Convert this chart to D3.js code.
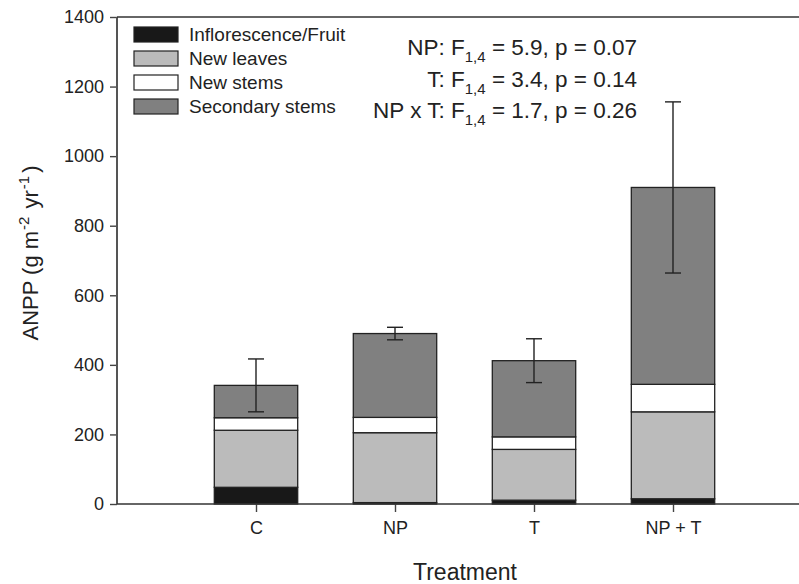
<!DOCTYPE html>
<html>
<head>
<meta charset="utf-8">
<script src="https://cdn.jsdelivr.net/npm/d3@7"></script>
<style>
  html, body { margin: 0; padding: 0; background: #fff; }
  svg { display: block; font-family: "Liberation Sans", Arial, sans-serif; }
</style>
</head>
<body>
<svg id="chart" width="799" height="584"></svg>
<script>
// Treatments and ANPP components (g m-2 yr-1), stacked bottom to top
const treatments = ["C", "NP", "T", "NP + T"];
const fruit      = [48, 4, 11, 15];
const newLeaves  = [164, 201, 146, 250];
const newStems   = [36, 44, 36, 79];
const secStems   = [93, 241, 219, 566];
const stdErr     = [76, 18, 63, 246];

const seriesNames  = ["Inflorescence/Fruit", "New leaves", "New stems", "Secondary stems"];
const seriesColors = ["#181818", "#bbbbbb", "#ffffff", "#808080"];
const yTicks = [0, 200, 400, 600, 800, 1000, 1200, 1400];
const statLines = [
  { pre: "NP: F", post: " = 5.9, p = 0.07" },
  { pre: "T: F",  post: " = 3.4, p = 0.14" },
  { pre: "NP x T: F", post: " = 1.7, p = 0.26" }
];

const rows = treatments.map((t, i) => ({
  treatment: t, pos: i + 1,
  "Inflorescence/Fruit": fruit[i],
  "New leaves": newLeaves[i],
  "New stems": newStems[i],
  "Secondary stems": secStems[i],
  se: stdErr[i]
}));

const svg = d3.select("#chart");
const plotLeft = 117, plotTop = 17, plotBottom = 504;

const x = d3.scaleLinear().domain([0, 5]).range([plotLeft, plotLeft + 5 * 139]);
const y = d3.scaleLinear().domain([0, 1400]).range([plotBottom, plotTop]);
const barW = 0.6 * (x(1) - x(0));

const stack = d3.stack().keys(seriesNames)(rows);
const color = d3.scaleOrdinal().domain(seriesNames).range(seriesColors);

// stacked bars
svg.append("g").selectAll("g").data(stack).join("g")
  .attr("fill", d => color(d.key))
  .selectAll("rect").data(d => d).join("rect")
  .attr("x", d => x(d.data.pos) - barW / 2)
  .attr("width", barW)
  .attr("y", d => y(d[1]))
  .attr("height", d => y(d[0]) - y(d[1]))
  .attr("stroke", "#222")
  .attr("stroke-width", 1.3);

// error bars on total
const totals = rows.map(r => ({ pos: r.pos, total: d3.sum(seriesNames, k => r[k]), se: r.se }));
const eb = svg.append("g").attr("stroke", "#222").attr("stroke-width", 1.4);
totals.forEach(d => {
  const cx = x(d.pos);
  eb.append("line").attr("x1", cx).attr("x2", cx).attr("y1", y(d.total - d.se)).attr("y2", y(d.total + d.se));
  [d.total - d.se, d.total + d.se].forEach(v => {
    eb.append("line").attr("x1", cx - 8).attr("x2", cx + 8).attr("y1", y(v)).attr("y2", y(v));
  });
});

// axes
const yAxis = svg.append("g").attr("transform", `translate(${plotLeft},0)`)
  .call(d3.axisLeft(y).tickValues(yTicks).tickSize(7).tickPadding(6).tickFormat(d3.format("d")));
yAxis.select(".domain").remove();
yAxis.selectAll("line").attr("stroke", "#444").attr("stroke-width", 1.4);
yAxis.selectAll("text").attr("font-size", 18).attr("fill", "#222").style("font-family", "Liberation Sans, Arial, sans-serif");

const xAxis = svg.append("g").attr("transform", `translate(0,${plotBottom})`)
  .call(d3.axisBottom(x).tickValues(rows.map(r => r.pos)).tickSize(8).tickPadding(9)
    .tickFormat((d, i) => treatments[i]));
xAxis.select(".domain").remove();
xAxis.selectAll("line").attr("stroke", "#444").attr("stroke-width", 1.4);
xAxis.selectAll("text").attr("font-size", 18).attr("fill", "#222").style("font-family", "Liberation Sans, Arial, sans-serif");

// frame lines: left, bottom, top
svg.append("line").attr("x1", plotLeft).attr("x2", plotLeft).attr("y1", plotTop).attr("y2", plotBottom)
  .attr("stroke", "#555").attr("stroke-width", 2);
svg.append("line").attr("x1", plotLeft).attr("x2", 799).attr("y1", plotBottom).attr("y2", plotBottom)
  .attr("stroke", "#333").attr("stroke-width", 1.5);
svg.append("line").attr("x1", plotLeft).attr("x2", 799).attr("y1", plotTop).attr("y2", plotTop)
  .attr("stroke", "#333").attr("stroke-width", 1.5);

// axis titles
svg.append("text").attr("x", 465).attr("y", 580).attr("text-anchor", "middle")
  .attr("font-size", 23).attr("fill", "#222").text("Treatment");

const yt = svg.append("text").attr("transform", `translate(38,253) rotate(-90)`)
  .attr("text-anchor", "middle").attr("font-size", 22).attr("fill", "#222");
yt.append("tspan").text("ANPP (g m");
yt.append("tspan").attr("font-size", 15).attr("dy", -9).attr("dx", 1).text("-2");
yt.append("tspan").attr("dy", 9).attr("dx", 2).text(" yr");
yt.append("tspan").attr("font-size", 15).attr("dy", -9).attr("dx", 1).text("-1");
yt.append("tspan").attr("dy", 9).attr("dx", 3).text(")");

// legend
const lg = svg.append("g");
seriesNames.forEach((name, i) => {
  const yy = 27 + i * 24;
  lg.append("rect").attr("x", 134).attr("y", yy).attr("width", 44).attr("height", 15)
    .attr("fill", seriesColors[i]).attr("stroke", "#222").attr("stroke-width", 1.2);
  lg.append("text").attr("x", 189).attr("y", yy + 14).attr("font-size", 19)
    .attr("fill", "#222").text(name);
});

// statistics annotation
statLines.forEach((s, i) => {
  const t = svg.append("text").attr("x", 637).attr("y", 55 + i * 31.5)
    .attr("text-anchor", "end").attr("font-size", 22.5).attr("fill", "#222");
  t.append("tspan").text(s.pre);
  t.append("tspan").attr("font-size", 15).attr("dy", 7).text("1,4");
  t.append("tspan").attr("dy", -7).text(s.post);
});
</script>
</body>
</html>
